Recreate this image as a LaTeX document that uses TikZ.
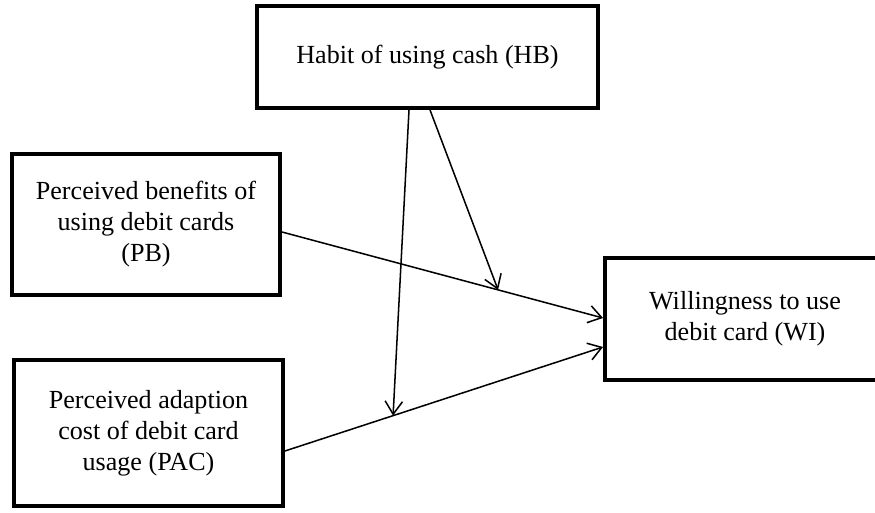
\documentclass[tikz,border=0pt]{standalone}
\usepackage{fontspec}
\setmainfont{Liberation Serif}
\usetikzlibrary{arrows.meta, calc}

\begin{document}
\begin{tikzpicture}[
    x=0.46pt, y=-0.46pt,
    >={Straight Barb[length=6pt,width=8pt]},
    font=\fontsize{12}{14.3}\selectfont,
    box/.style={draw, line width=1.8pt, align=center, inner sep=0pt},
    link/.style={->, line width=0.7pt}
]
\clip (0,0) rectangle (875,513);
\node[box, minimum width=156.9pt, minimum height=46.9pt] (hb) at (427.5,57) {Habit of using cash (HB)};
\node[box, minimum width=123.3pt, minimum height=64.9pt] (pb) at (146,224.5) {Perceived benefits of\\using debit cards\\(PB)};
\node[box, minimum width=123.7pt, minimum height=67.2pt] (pac) at (148.5,433) {Perceived adaption\\cost of debit card\\usage (PAC)};
\node[box, minimum width=128.8pt, minimum height=56.1pt] (wi) at (745,319) {Willingness to use\\debit card (WI)};

\coordinate (pbout) at ($(pb.east)+(0,7.5)$);
\coordinate (wiin1) at ($(wi.west)+(0,-1)$);
\coordinate (pacout) at ($(pac.east)+(0,18)$);
\coordinate (wiin2) at ($(wi.west)+(0,28)$);
\coordinate (hit1) at ($(pbout)!0.673!(wiin1)$);
\coordinate (hit2) at ($(pacout)!0.34!(wiin2)$);

\draw[link] (pbout) -- (wiin1);
\draw[link] (pacout) -- (wiin2);
\draw[link] ($(hb.south)+(-18.5,0)$) -- (hit2);
\draw[link] ($(hb.south)+(2.5,0)$) -- (hit1);
\end{tikzpicture}
\end{document}
